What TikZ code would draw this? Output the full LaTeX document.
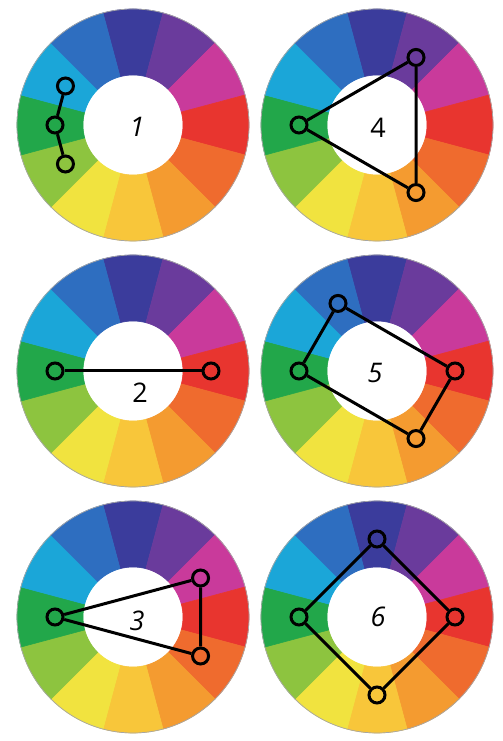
\documentclass[tikz,border=0pt]{standalone}
\usepackage{fontspec}
\newfontfamily\lblfont{Open Sans}
\definecolor{c0}{HTML}{3B3C9C}
\definecolor{c1}{HTML}{6A3B9C}
\definecolor{c2}{HTML}{C93A9B}
\definecolor{c3}{HTML}{E8352F}
\definecolor{c4}{HTML}{EF6B2E}
\definecolor{c5}{HTML}{F49B30}
\definecolor{c6}{HTML}{F8C63A}
\definecolor{c7}{HTML}{F1E33F}
\definecolor{c8}{HTML}{8DC43F}
\definecolor{c9}{HTML}{22A74A}
\definecolor{c10}{HTML}{1BA6D8}
\definecolor{c11}{HTML}{2E6EC0}
\tikzset{
  mk/.style={circle, draw=black, line width=3bp, minimum size=16bp, inner sep=0pt},
  ln/.style={draw=black, line width=3bp, line join=round},
  lbl/.style={font=\lblfont\fontsize{27bp}{31bp}\selectfont, inner sep=0pt},
}
\newcommand\mywheel{%
  \foreach \i in {0,...,11}{%
    \pgfmathsetmacro\a{75-30*\i}%
    \pgfmathsetmacro\b{105-30*\i}%
    \fill[c\i, draw=c\i, line width=0.6bp] (\a:50) arc[start angle=\a, end angle=\b, radius=50] -- (\b:116) arc[start angle=\b, end angle=\a, radius=116] -- cycle;
  }%
  \draw[black!35, line width=0.7bp] (0,0) circle[radius=116];
}
\begin{document}
\begin{tikzpicture}[x=1bp,y=1bp]
\useasboundingbox[fill=white] (0,0) rectangle (503,741);
% wheel 1
\begin{scope}[shift={(133,616)}]
  \mywheel
  \node[mk] (w1a) at (150:78) {};
  \node[mk] (w1b) at (180:78) {};
  \node[mk] (w1c) at (-150:78) {};
  \draw[ln] (w1a) -- (w1b) -- (w1c);
  \node[lbl] (t1) at (4,-2) {\itshape 1};
\end{scope}
% wheel 4
\begin{scope}[shift={(377,616)}]
  \mywheel
  \node[mk] (w4a) at (180:78) {};
  \node[mk] (w4b) at (60:78) {};
  \node[mk] (w4c) at (-60:78) {};
  \draw[ln] (w4a) -- (w4b) -- (w4c) -- (w4a);
  \node[lbl] (t4) at (1,-3) {4};
\end{scope}
% wheel 2
\begin{scope}[shift={(133,370)}]
  \mywheel
  \node[mk] (w2a) at (180:78) {};
  \node[mk] (w2b) at (0:78) {};
  \draw[ln] (w2a) -- (w2b);
  \node[lbl] (t2) at (7,-22) {2};
\end{scope}
% wheel 5
\begin{scope}[shift={(377,370)}]
  \mywheel
  \node[mk] (w5a) at (120:78) {};
  \node[mk] (w5b) at (180:78) {};
  \node[mk] (w5c) at (-60:78) {};
  \node[mk] (w5d) at (0:78) {};
  \draw[ln] (w5a) -- (w5b) -- (w5c) -- (w5d) -- (w5a);
  \node[lbl] (t5) at (-2,-2) {\itshape 5};
\end{scope}
% wheel 3
\begin{scope}[shift={(133,124)}]
  \mywheel
  \node[mk] (w3a) at (180:78) {};
  \node[mk] (w3b) at (30:78) {};
  \node[mk] (w3c) at (-30:78) {};
  \draw[ln] (w3a) -- (w3b) -- (w3c) -- (w3a);
  \node[lbl] (t3) at (4,-4) {\itshape 3};
\end{scope}
% wheel 6
\begin{scope}[shift={(377,124)}]
  \mywheel
  \node[mk] (w6a) at (90:78) {};
  \node[mk] (w6b) at (180:78) {};
  \node[mk] (w6c) at (-90:78) {};
  \node[mk] (w6d) at (0:78) {};
  \draw[ln] (w6a) -- (w6b) -- (w6c) -- (w6d) -- (w6a);
  \node[lbl] (t6) at (1,0) {\itshape 6};
\end{scope}
\end{tikzpicture}
\end{document}
